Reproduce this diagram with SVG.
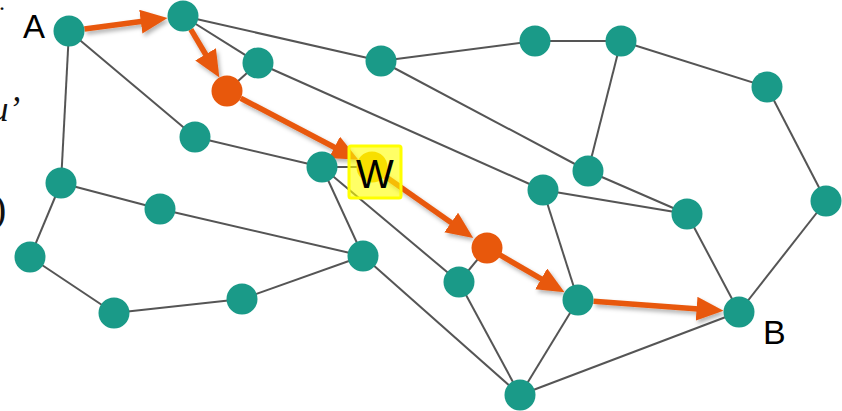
<svg xmlns="http://www.w3.org/2000/svg" width="842" height="411" viewBox="0 0 842 411">
  <style>
    .edge { stroke: #555555; stroke-width: 2; fill: none; }
    .node { fill: #1a9a88; }
    .hot { fill: #e8580c; }
    .path { stroke: #e8580c; stroke-width: 5.5; fill: none; marker-end: url(#head); }
    .label { font-family: "Liberation Sans", Arial, sans-serif; fill: #000000; }
    .frag { font-family: "Liberation Serif", "Times New Roman", serif; fill: #111111; }
  </style>
  <defs>
    <marker id="head" markerUnits="userSpaceOnUse" markerWidth="29" markerHeight="26" refX="2" refY="12" orient="auto">
      <path d="M0,0 L27,12 L0,24 z" fill="#e8580c"/>
    </marker>
    <filter id="shadow" x="-20%" y="-20%" width="140%" height="140%">
      <feDropShadow dx="2" dy="3" stdDeviation="2" flood-color="#000000" flood-opacity="0.3"/>
    </filter>
  </defs>

  <rect width="842" height="411" fill="#ffffff"/>

  <!-- text fragments along the left edge -->
  <text class="frag" x="-1" y="10" font-size="24">.</text>
  <text class="frag" x="-9" y="121" font-size="35" font-style="italic">u’</text>
  <text class="frag" x="-7" y="222" font-size="40">)</text>

  <!-- plain connections -->
  <g id="connectors">
    <line class="edge" x1="69" y1="31" x2="61" y2="183"/>
    <line class="edge" x1="69" y1="31" x2="195" y2="137"/>
    <line class="edge" x1="183" y1="16" x2="258" y2="63"/>
    <line class="edge" x1="183" y1="16" x2="381" y2="61"/>
    <line class="edge" x1="258" y1="63" x2="227" y2="91"/>
    <line class="edge" x1="258" y1="63" x2="543" y2="190"/>
    <line class="edge" x1="381" y1="61" x2="535" y2="41"/>
    <line class="edge" x1="381" y1="61" x2="588" y2="171"/>
    <line class="edge" x1="535" y1="41" x2="621" y2="41"/>
    <line class="edge" x1="621" y1="41" x2="767" y2="87"/>
    <line class="edge" x1="621" y1="41" x2="588" y2="171"/>
    <line class="edge" x1="767" y1="87" x2="826" y2="201"/>
    <line class="edge" x1="826" y1="201" x2="739" y2="312"/>
    <line class="edge" x1="588" y1="171" x2="687" y2="214"/>
    <line class="edge" x1="543" y1="190" x2="687" y2="214"/>
    <line class="edge" x1="543" y1="190" x2="578" y2="300"/>
    <line class="edge" x1="687" y1="214" x2="739" y2="312"/>
    <line class="edge" x1="195" y1="137" x2="322" y2="167"/>
    <line class="edge" x1="322" y1="167" x2="372" y2="167"/>
    <line class="edge" x1="322" y1="167" x2="363" y2="256"/>
    <line class="edge" x1="322" y1="167" x2="459" y2="282"/>
    <line class="edge" x1="61" y1="183" x2="160" y2="209"/>
    <line class="edge" x1="61" y1="183" x2="30" y2="257"/>
    <line class="edge" x1="160" y1="209" x2="363" y2="256"/>
    <line class="edge" x1="30" y1="257" x2="114" y2="313"/>
    <line class="edge" x1="114" y1="313" x2="242" y2="299"/>
    <line class="edge" x1="242" y1="299" x2="363" y2="256"/>
    <line class="edge" x1="363" y1="256" x2="520" y2="395"/>
    <line class="edge" x1="459" y1="282" x2="487" y2="248"/>
    <line class="edge" x1="459" y1="282" x2="520" y2="395"/>
    <line class="edge" x1="578" y1="300" x2="520" y2="395"/>
    <line class="edge" x1="520" y1="395" x2="739" y2="312"/>
  </g>

  <!-- highlighted route A to B -->
  <g id="route" filter="url(#shadow)">
    <line class="path" x1="84.4" y1="29.0" x2="142.8" y2="21.3"/>
    <line class="path" x1="190.8" y1="29.4" x2="206.6" y2="56.0"/>
    <line class="path" x1="240.7" y1="98.2" x2="336.2" y2="148.2"/>
    <line class="path" x1="384.7" y1="175.9" x2="452.8" y2="223.7"/>
    <line class="path" x1="499.4" y1="254.7" x2="542.9" y2="279.8"/>
    <line class="path" x1="593.5" y1="301.2" x2="698.6" y2="308.9"/>
  </g>

  <!-- nodes -->
  <g id="nodes">
    <circle id="nA" class="node" cx="69" cy="31" r="15.5"/>
    <circle id="n2" class="node" cx="183" cy="16" r="15.5"/>
    <circle id="n3" class="node" cx="258" cy="63" r="15.5"/>
    <circle id="n4" class="hot" cx="227" cy="91" r="15.5"/>
    <circle id="n5" class="node" cx="381" cy="61" r="15.5"/>
    <circle id="n6" class="node" cx="535" cy="41" r="15.5"/>
    <circle id="n7" class="node" cx="621" cy="41" r="15.5"/>
    <circle id="n8" class="node" cx="767" cy="87" r="15.5"/>
    <circle id="n9" class="node" cx="195" cy="137" r="15.5"/>
    <circle id="n10" class="node" cx="322" cy="167" r="15.5"/>
    <circle id="n12" class="node" cx="588" cy="171" r="15.5"/>
    <circle id="n13" class="node" cx="543" cy="190" r="15.5"/>
    <circle id="n14" class="node" cx="687" cy="214" r="15.5"/>
    <circle id="n15" class="node" cx="826" cy="201" r="15.5"/>
    <circle id="n16" class="node" cx="61" cy="183" r="15.5"/>
    <circle id="n17" class="node" cx="160" cy="209" r="15.5"/>
    <circle id="n18" class="node" cx="30" cy="257" r="15.5"/>
    <circle id="n19" class="node" cx="363" cy="256" r="15.5"/>
    <circle id="n20" class="hot" cx="487" cy="248" r="15.5"/>
    <circle id="n21" class="node" cx="459" cy="282" r="15.5"/>
    <circle id="n22" class="node" cx="578" cy="300" r="15.5"/>
    <circle id="nB" class="node" cx="739" cy="312" r="15.5"/>
    <circle id="n24" class="node" cx="114" cy="313" r="15.5"/>
    <circle id="n25" class="node" cx="242" cy="299" r="15.5"/>
    <circle id="n26" class="node" cx="520" cy="395" r="15.5"/>
  </g>

  <!-- W: marked node with highlight box -->
  <g id="nW">
    <circle cx="372" cy="167" r="15.5" fill="#eeb000"/>
    <rect x="349" y="146" width="52" height="52" rx="2" fill="#ffff00" fill-opacity="0.6" stroke="#ffff00" stroke-width="3"/>
    <text class="label" x="375" y="188" font-size="40" text-anchor="middle">W</text>
  </g>

  <text id="labelA" class="label" x="23" y="38" font-size="33">A</text>
  <text id="labelB" class="label" x="763" y="344" font-size="34">B</text>
</svg>
